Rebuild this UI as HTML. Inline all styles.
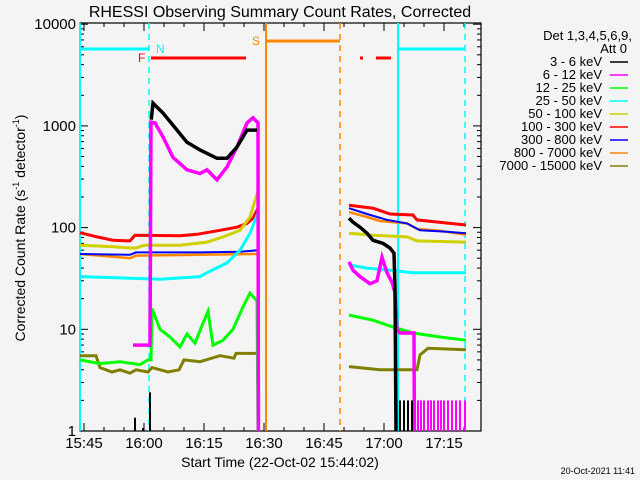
<!DOCTYPE html>
<html><head><meta charset="utf-8"><style>
body{margin:0;background:#f4f4f4;}
svg{display:block;font-family:"Liberation Sans",sans-serif;}
</style></head><body>
<svg id="chart" width="640" height="480" viewBox="0 0 640 480" xmlns="http://www.w3.org/2000/svg">
<rect width="640" height="480" fill="#f4f4f4"/>
<text x="280" y="17" font-size="16" text-anchor="middle" fill="#000">RHESSI Observing Summary Count Rates, Corrected</text>
<text transform="translate(25,228) rotate(-90)" font-size="14" text-anchor="middle" fill="#000">Corrected Count Rate (s<tspan font-size="9" dy="-6">-1</tspan><tspan dy="6"> detector</tspan><tspan font-size="9" dy="-6">-1</tspan><tspan dy="6">)</tspan></text>
<text x="280" y="467" font-size="14" text-anchor="middle" fill="#000">Start Time (22-Oct-02 15:44:02)</text>
<text x="635" y="474" font-size="9" text-anchor="end" fill="#000">20-Oct-2021 11:41</text>
<g id="axes"></g>
<g id="marks"></g>
<g id="legend">
<text x="632" y="40" font-size="13" text-anchor="end">Det 1,3,4,5,6,9,</text>
<text x="627" y="53" font-size="13" text-anchor="end">Att 0</text>
</g>
</svg>
<script>
const legendLabels = ["3 - 6 keV","6 - 12 keV","12 - 25 keV","25 - 50 keV","50 - 100 keV","100 - 300 keV","300 - 800 keV","800 - 7000 keV","7000 - 15000 keV"];
const colors = ["#000000","#ff00ff","#00ff00","#00ffff","#d0d000","#ff0000","#0000ff","#ff8800","#808000"];
const xTickLabels = ["15:45","16:00","16:15","16:30","16:45","17:00","17:15"];
const xTickMinutes = [1,16,31,46,61,76,91];
const yTickValues = [1,10,100,1000,10000];
const yTickLabels = ["1","10","100","1000","10000"];
// times in minutes since 15:44:02; NaN = data gap
const blackT = [17.8,18.25,20.75,24.25,26.75,30,34.25,36.75,39.25,41.75,44.25,NaN,67.25,68.25,70,71.75,73.25,75.75,77.5,78.5,78.75,79];
const blackV = [1150,1670,1340,910,690,580,480,480,620,910,910,NaN,124,113,101,88,75,70,63,56,26,1];
const magentaT = [13.25,17.5,17.75,18.75,20.75,23.25,26.75,30,31.75,34.25,36.75,39.25,41.75,43.25,44.5,44.6,NaN,67.25,68.25,70,72.5,74.25,75.5,76.75,78,78.75,79.25,80,82.5,83.5,83.6];
const magentaV = [7,7,1090,1070,780,490,370,340,370,295,395,620,1070,1200,1070,1,NaN,46,38,33,28,30,51,36,29,23,10,9.2,9.2,9.2,1];
const greenT = [0,5,10,15,17,17.75,18,20,22.5,25,26.75,28.75,30.75,32,33.25,35.75,38.25,40.75,42.5,44.25,44.5,NaN,67.25,73.25,78.25,83.25,90,96.5];
const greenV = [5,4.6,4.8,4.5,5,5,16,10,8.4,6.7,9,7.3,11.5,15,7,7.8,10,16.6,22.7,19,1,NaN,13.8,12.3,10.5,9.2,8.4,7.8];
const cyanT = [0,10,20,30,31.75,36.75,40,42.5,44.5,NaN,67.25,71.75,77.5,83.25,96.5];
const cyanV = [33,32,31,33,36,45,60,88,140,NaN,43,40,38,36,36];
const yellowT = [0,8,12.5,14,16,25,31.75,35.75,40,42.5,44.5,NaN,67.25,73.25,81.75,84.25,96.5];
const yellowV = [67,65,63,63,67,67,72,81,94,127,230,NaN,88,84,81,74,72];
const redT = [0,4.25,8.25,12.5,13.75,25,29.25,35,39.25,41.75,43.25,44.5,44.6,NaN,67.25,73.25,77.5,83.25,84.25,92.5,96.5];
const redV = [89,81,75,74,84,83,86,94,101,110,124,155,1,NaN,166,155,136,133,119,110,106];
const blueT = [0,12.5,14,30,40,44.5,NaN,67.25,71.75,76.75,81.75,85,91.75,96.5];
const blueV = [55,54,57,57,58,60,NaN,155,136,119,110,94,91,88];
const orangeT = [0,12.5,14,44.5,44.6,NaN,67.25,71.75,75,81.75,84.25,90,96.5];
const orangeV = [55,50,53,55,1,NaN,142,127,116,110,97,93,85];
const oliveT = [0,4,5,8,10,12.5,14,17,18,22,24.75,26,30,35,38.5,39,44.5,44.6,NaN,67.25,75,84.25,85,87,96.5];
const oliveV = [5.5,5.5,4.2,3.8,4,3.7,4,3.8,4.2,3.8,4,5,4.8,5.5,5.2,5.8,5.8,1,NaN,4.3,4,4,5.6,6.5,6.3];
const magentaSpikeT = [83.75,84.5,85.25,86,87,87.75,88.5,89.5,90.25,91,92,93,94,95,96.25];
const magentaSpikeV = [2,2,2,2,2,2,2,2,2,2,2,2,2,2,2];
const blackSpikeT = [13.75,15.75,17.5,80,81,82,83];
const blackSpikeV = [1.35,1.07,2.4,2,2,2,2];

const NS="http://www.w3.org/2000/svg";
const X0=80,X1=481,Y0=23,Y1=431;
function xs(t){return 80+4*t;}
function ys(v){return 431-101.7*Math.log10(v);}
function mk(tag,attrs,parent){const e=document.createElementNS(NS,tag);for(const k in attrs)e.setAttribute(k,attrs[k]);parent.appendChild(e);return e;}
const axes=document.getElementById('axes'),marks=document.getElementById('marks'),legend=document.getElementById('legend');

const vm=[[80,'#00ffff',false],[398,'#00ffff',false],[149,'#00ffff',true],[465,'#00ffff',true],[266,'#ff8800',false],[340,'#ff8800',true]];
vm.forEach((m,i)=>{const l=mk('line',{x1:m[0],x2:m[0],y1:Y0,y2:Y1,stroke:m[1],'stroke-width':(m[2]?1.5:2),'stroke-dasharray':(m[2]?'6,5':'none')},marks);

});
const bars=[[80,149,49,'#00ffff'],[398,465,49,'#00ffff'],[151,246,58,'#ff0000'],[360,363,58,'#ff0000'],[376,391,58,'#ff0000'],[266,340,41,'#ff8800']];
bars.forEach((b,i)=>{const l=mk('line',{x1:b[0],x2:b[1],y1:b[2],y2:b[2],stroke:b[3],'stroke-width':3},marks);

});
[['N',156,53,'#00ffff'],['F',138,62,'#ff0000'],['S',252,45,'#ff8800']].forEach(f=>{const t=mk('text',{x:f[1],y:f[2],fill:f[3],'font-size':12},marks);t.textContent=f[0];

});

const series=[[oliveT,oliveV,8,3],[orangeT,orangeV,7,2.5],[blueT,blueV,6,2],[redT,redV,5,3],[yellowT,yellowV,4,3],[cyanT,cyanV,3,3],[greenT,greenV,2,3],[magentaT,magentaV,1,3.5],[blackT,blackV,0,3.5]];
series.forEach(s=>{let d='',pen=false;
for(let i=0;i<s[0].length;i++){const t=s[0][i],v=s[1][i];if(isNaN(t)){pen=false;continue;}
const y=Math.min(Y1,ys(v));d+=(pen?'L':'M')+xs(t).toFixed(1)+' '+y.toFixed(1)+' ';pen=true;}
const p=mk('path',{d:d,fill:'none',stroke:colors[s[2]],'stroke-width':s[3],'stroke-linejoin':'miter'},marks);

});
magentaSpikeT.forEach((t,i)=>{const l=mk('line',{x1:xs(t),x2:xs(t),y1:Y1,y2:ys(magentaSpikeV[i]),stroke:'#ff00ff','stroke-width':2},marks);

});
blackSpikeT.forEach((t,i)=>{const l=mk('line',{x1:xs(t),x2:xs(t),y1:Y1,y2:ys(blackSpikeV[i]),stroke:'#000','stroke-width':2},marks);

});

const fr=mk('rect',{x:X0,y:Y0,width:X1-X0,height:Y1-Y0,fill:'none',stroke:'#000','stroke-width':1.2},axes);


for(let m=1;m<=96;m+=5){const maj=((m-1)%15===0);const x=xs(m);const L=maj?8:4;
const a=mk('line',{x1:x,x2:x,y1:Y1,y2:Y1-L,stroke:'#000'},axes);
const b=mk('line',{x1:x,x2:x,y1:Y0,y2:Y0+L,stroke:'#000'},axes);}
xTickMinutes.forEach((m,i)=>{const t=mk('text',{x:xs(m),y:448,'font-size':15,'text-anchor':'middle'},axes);t.textContent=xTickLabels[i];

});
for(let d=0;d<5;d++){for(let k=1;k<=9;k++){const v=yTickValues[d]*k;if(v>11000||(d==4&&k>1))continue;const y=ys(v);const L=k===1?8:4;
const a=mk('line',{x1:X0,x2:X0+L,y1:y,y2:y,stroke:'#000'},axes);
const b=mk('line',{x1:X1,x2:X1-L,y1:y,y2:y,stroke:'#000'},axes);}}
yTickValues.forEach((v,i)=>{const t=mk('text',{x:76,y:ys(v)+5,'font-size':15,'text-anchor':'end'},axes);t.textContent=yTickLabels[i];

});
legendLabels.forEach((lab,i)=>{const y=66+13*i;
const t=mk('text',{x:602,y:y,'font-size':13,'text-anchor':'end'},legend);t.textContent=lab;


const l=mk('line',{x1:610,x2:628,y1:y-4,y2:y-4,stroke:colors[i],'stroke-width':1.5},legend);

});
</script>
</body></html>
